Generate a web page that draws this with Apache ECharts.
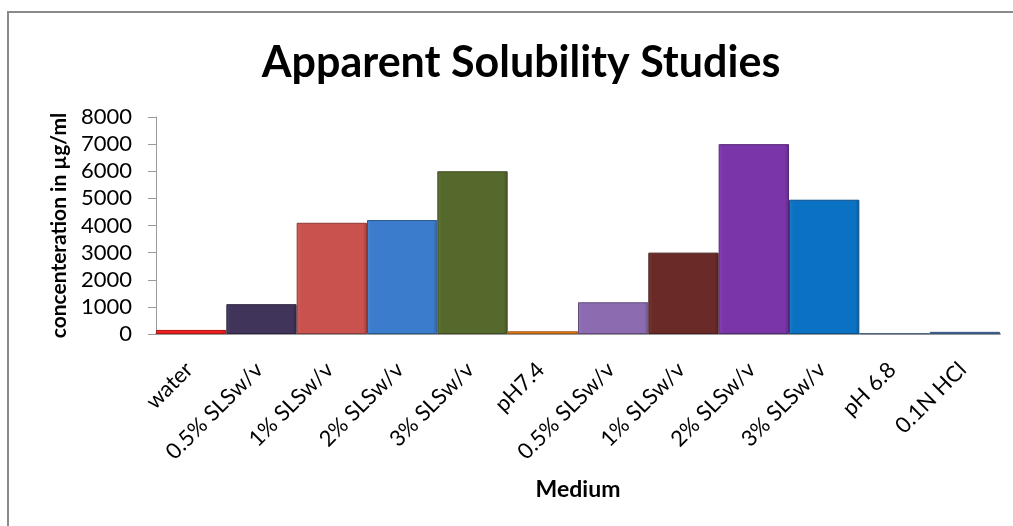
<!DOCTYPE html>
<html>
<head>
<meta charset="utf-8">
<script src="https://cdn.jsdelivr.net/npm/echarts@6/dist/echarts.min.js"></script>
<style>
  html, body { margin: 0; padding: 0; background: #fff; }
  #chart { width: 1013px; height: 526px; }
</style>
</head>
<body>
<div id="chart"></div>
<script>
// Solubility of the drug in each dissolution medium (µg/ml)
const media = ['water', '0.5% SLSw/v', '1% SLSw/v', '2% SLSw/v', '3% SLSw/v', 'pH7.4',
               '0.5% SLSw/v', '1% SLSw/v', '2% SLSw/v', '3% SLSw/v', 'pH 6.8', '0.1N HCl'];
const concentration = [150, 1100, 4100, 4200, 6000, 100, 1170, 3000, 7000, 4950, 30, 80];
const barColors = ['#f21d1d', '#41345a', '#c9524f', '#3b7dcc', '#56692c', '#f07f1a',
                   '#8c6bb1', '#6a2a27', '#7a35a8', '#0b72c3', '#6f8fc0', '#4f7ab8'];
const yTicks = { min: 0, max: 8000, step: 1000 };

const font = 'Lato, "Open Sans", sans-serif';

function shade(hex, f) {
  const n = parseInt(hex.slice(1), 16);
  const ch = [(n >> 16) & 255, (n >> 8) & 255, n & 255].map(c =>
    f >= 1 ? Math.round(c + (255 - c) * (f - 1)) : Math.round(c * f));
  return 'rgb(' + ch.join(',') + ')';
}

const chart = echarts.init(document.getElementById('chart'), null, { renderer: 'canvas' });
chart.setOption({
  backgroundColor: '#ffffff',
  animation: false,
  graphic: [{
    type: 'rect',
    shape: { x: 8, y: 12, width: 1100, height: 600 },
    style: { fill: 'none', stroke: '#8a8a8a', lineWidth: 2 },
    silent: true
  }],
  title: {
    text: 'Apparent Solubility Studies',
    left: 516,
    textAlign: 'center',
    top: 37,
    textStyle: { fontFamily: font, fontWeight: 'bold', fontSize: 43, color: '#000' }
  },
  grid: { left: 156, right: 13, top: 117, bottom: 192, containLabel: false },
  xAxis: {
    type: 'category',
    data: media,
    name: 'Medium',
    nameLocation: 'middle',
    nameGap: 144,
    nameTextStyle: { fontFamily: font, fontWeight: 'bold', fontSize: 23, color: '#000' },
    axisLine: { lineStyle: { color: '#9a9a9a', width: 2 } },
    axisTick: { show: false },
    axisLabel: {
      interval: 0,
      rotate: 45,
      margin: 30,
      padding: [0, 3, 0, 0],
      fontFamily: font,
      fontSize: 22,
      color: '#000'
    }
  },
  yAxis: {
    type: 'value',
    min: yTicks.min,
    max: yTicks.max,
    interval: yTicks.step,
    name: 'concenteration in µg/ml',
    nameLocation: 'middle',
    nameGap: 86,
    nameTextStyle: { fontFamily: font, fontWeight: 'bold', fontSize: 21, color: '#000' },
    axisLine: { show: true, lineStyle: { color: '#9a9a9a', width: 1 } },
    axisTick: { show: true, length: 8, lineStyle: { color: '#9a9a9a' } },
    splitLine: { show: false },
    axisLabel: {
      margin: 24,
      fontFamily: font,
      fontSize: 22,
      color: '#000',
      formatter: v => String(v)
    }
  },
  series: [{
    type: 'bar',
    barCategoryGap: 0,
    data: concentration.map((v, i) => ({
      value: v,
      itemStyle: {
        color: {
          type: 'linear', x: 0, y: 0, x2: 1, y2: 0,
          colorStops: [
            { offset: 0, color: shade(barColors[i], 1.08) },
            { offset: 0.06, color: barColors[i] },
            { offset: 0.94, color: barColors[i] },
            { offset: 1, color: shade(barColors[i], 0.8) }
          ]
        },
        borderColor: shade(barColors[i], 0.7),
        borderWidth: 1
      }
    }))
  }]
});
</script>
</body>
</html>
